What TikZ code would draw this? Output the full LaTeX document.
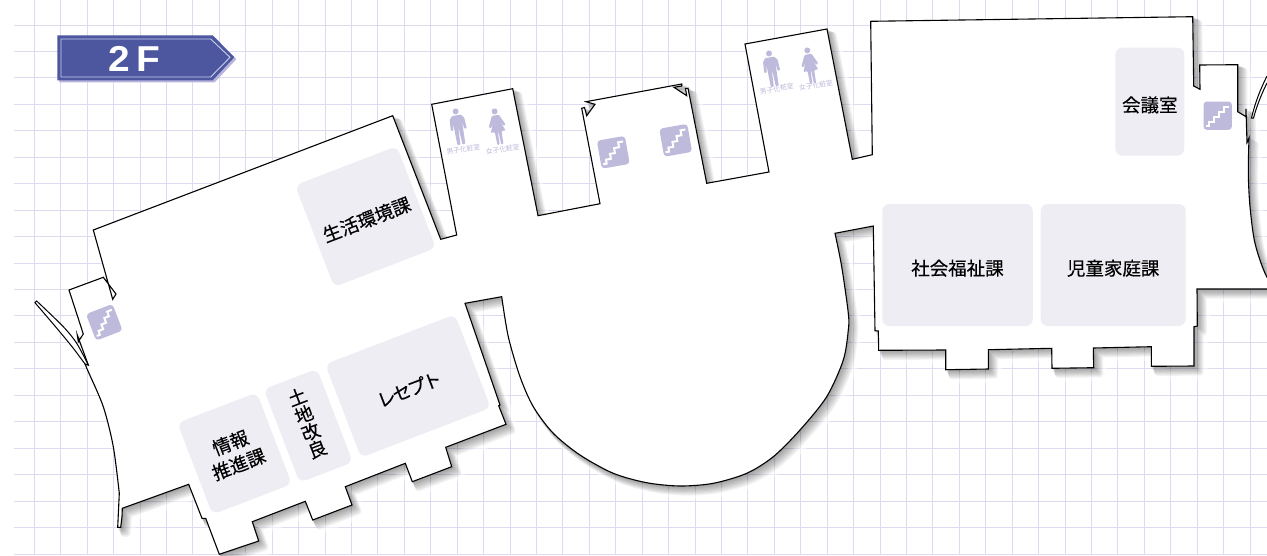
\documentclass[tikz,border=0pt]{standalone}
\usepackage{fontspec}
\newfontfamily\jpfont[FakeBold=0.3]{Noto Sans CJK JP}
\newfontfamily\jplight{Noto Sans CJK JP}
\setsansfont{Liberation Sans}
\definecolor{gridline}{HTML}{DEDAEF}
\definecolor{roomgray}{HTML}{EEEDF4}
\definecolor{iconblue}{HTML}{BEBADB}
\definecolor{badgeblue}{HTML}{4C57A0}
\definecolor{badgeshade}{HTML}{B8B5DC}
\definecolor{badgeline}{HTML}{CDD0EA}
\tikzset{
  room/.style={fill=roomgray, rounded corners=7pt, inner sep=0pt, align=center,
    font=\jpfont\fontsize{18.5}{21.5}\selectfont,
    execute at begin node={\rule{0pt}{22pt}}},
  wclabel/.style={text=iconblue, inner sep=0pt, rotate=10,
    font=\jplight\fontsize{6.8}{7}\selectfont},
  stairicon/.pic={
    \fill[iconblue, rounded corners=3.5pt] (-14.2,-14.2) rectangle (14.2,14.2);
    \draw[white, line width=2pt] (11.5,-9) -- (6.5,-9) -- (6.5,-4) -- (1.5,-4) -- (1.5,1)
      -- (-3.5,1) -- (-3.5,6) -- (-8.5,6) -- (-8.5,10) -- (-12,10);
  },
  manicon/.pic={
    \fill[iconblue] (0,-15.5) circle (3);
    \fill[iconblue, rounded corners=.8pt] (-7.4,-8) -- (-4.5,-11.5) -- (4.5,-11.5) -- (7.4,-8)
      -- (8,3) -- (5.6,3) -- (4.6,-5) -- (4,18) -- (1,18) -- (.2,2) -- (-.2,2) -- (-1,18)
      -- (-4,18) -- (-4.6,-5) -- (-5.6,3) -- (-8,3) -- cycle;
  },
  womanicon/.pic={
    \fill[iconblue] (0,-15.5) circle (3);
    \fill[iconblue, rounded corners=.8pt] (-3.5,-11.5) -- (3.5,-11.5) -- (8.5,-1) -- (6.6,.5)
      -- (3.4,-5) -- (7.5,5) -- (3.4,5) -- (3,18) -- (.8,18) -- (.3,5) -- (-.3,5) -- (-.8,18)
      -- (-3,18) -- (-3.4,5) -- (-7.5,5) -- (-3.4,-5) -- (-6.6,.5) -- (-8.5,-1) -- cycle;
  }
}
% outline of the floor, clockwise from the top left wall
\newcommand{\floorpath}{
  (93.3,230) -- (392.7,115.7) -- (440.7,239.3) -- (456.7,235) -- (431.7,104.3) -- (512.7,88.7)
  -- (538,215.7) -- (600,203.7) -- (581.7,108.3) -- (584.5,107.5) -- (586.7,115.7) -- (595,104.3)
  -- (586,101.7) -- (681.7,84) -- (681.7,86) -- (674,87.3) -- (686.7,95.7) -- (685.5,88.5) -- (688,88.3)
  -- (706.7,183.3) -- (769,172) -- (745,44) -- (827,29) -- (852.3,159.3) -- (872.3,154.7)
  -- (870.7,21.3) -- (1192.7,16.7) -- (1193.7,86) -- (1200,89.3) -- (1199.7,65) -- (1237.7,64.7)
  -- (1237.7,111.7) -- (1246,116.7) -- (1246,109) -- (1247,142.7) -- (1249,138)
  -- plot[smooth] coordinates {(1249,138) (1248.3,173.3) (1250,206.7) (1255,243.3) (1266.7,276.7) (1285,300)}
  -- (1285,289) -- (1197,289) -- (1197.3,326) -- (1194,326.7) -- (1194,366) -- (1151.3,366.3)
  -- (1151.3,346.7) -- (1093.3,348) -- (1093.7,367.7) -- (1052,368.3) -- (1051.7,348.3)
  -- (988.3,349.7) -- (988.3,369) -- (945.7,369.7) -- (945.7,350) -- (878.7,350.3) -- (878.3,331)
  -- (875,330.7) -- (873.3,226) -- (835,233.3)
  -- plot[smooth] coordinates {(835,233.3) (841.7,266.7) (848.3,313.3) (848.3,330) (843.3,360)
    (826.7,396.7) (800,430) (773.3,456.7) (746.7,473.3) (713.3,483.3) (680,486) (646.7,482.7)
    (613.3,473.3) (580,455) (553.3,433.3) (533.3,406.7) (520,376.7) (508.3,336.7) (501.7,296.7)}
  -- (465,303.3) -- (500,405) -- (498.7,405.7) -- (506,424.3) -- (445.7,447.3) -- (451.7,466.7)
  -- (412.3,481.7) -- (405.3,463.3) -- (345.3,486.7) -- (352,505) -- (312.7,520) -- (305.3,501.3)
  -- (252.3,521.7) -- (258.7,541) -- (219.3,554.3) -- (205.7,518.3) -- (202,518.3) -- (188.7,484.3)
  -- (122.3,508.3) -- (122,516.7) -- (120.7,527.3) -- (117.7,527.3) -- (119.3,493.3)
  -- plot[smooth] coordinates {(119.3,493.3) (113.3,446.7) (103.3,406.7) (88.3,371.7) (85,364)}
  -- (88.3,365) -- (77.3,335) -- (78.3,341.7) -- (83.3,334) -- (69,290) -- (103.3,277.3)
  -- (116,294) -- (112.7,299.3) -- cycle
}
\begin{document}
\begin{tikzpicture}[x=1pt,y=-1pt]
  \useasboundingbox (0,0) rectangle (1267,555);
  \fill[white] (0,0) rectangle (1267,555);

  % grid paper
  \foreach \i in {0,...,46} {
    \draw[gridline, line width=1pt] ({34.3+26.43*\i},0) -- ({34.3+26.43*\i},555);
  }
  \foreach \i in {0,...,20} {
    \draw[gridline, line width=1pt] (14,{25+26.45*\i}) -- (1267,{25+26.45*\i});
  }

  % shadow of the floor
  \begin{scope}[shift={(9,9)}]
    \draw[white, opacity=.5, line width=9pt, line join=round] \floorpath;
  \end{scope}
  \foreach \i in {1,...,8} {
    \begin{scope}[shift={(\i*.8,\i*.8)}, transparency group, opacity=.05]
      \filldraw[black, line width=\i*.8pt, line join=round] \floorpath;
    \end{scope}
  }

  % floor
  \draw[black, fill=white, line width=1.1pt] \floorpath;
  \draw[black, fill=white, line width=1pt] plot[smooth] coordinates {(36.7,301) (63.3,326.7) (76.7,343.3) (88.3,365)}
    -- plot[smooth] coordinates {(85,364) (73.3,348.3) (58.3,330) (35,302.7)} -- cycle;
  \draw[black, fill=white, line width=1pt] (1267,76) .. controls (1260,90) and (1255,103) .. (1251.5,118)
    -- (1253.5,118) .. controls (1257,105) and (1262,93) .. (1267,83);

  % rooms
  \node[room, rotate=21, minimum width=109pt, minimum height=109pt] (seikatsu) at (365.5,216.6) {生活環境課};
  \node[room, rotate=21, minimum width=139pt, minimum height=100pt] (recept) at (408,386) {レ\kern-2.2pt セ\kern-2.2pt プ\kern-2.2pt ト};
  \node[room, rotate=21, minimum width=57pt, minimum height=100pt, execute at begin node={}, font=\jpfont\fontsize{18.5}{18.6}\selectfont] (tochi) at (308.3,425.7) {土\\地\\改\\良\rule[-7pt]{0pt}{1pt}};
  \node[room, rotate=21, minimum width=85pt, minimum height=98pt, font=\jpfont\fontsize{18.5}{23}\selectfont] (joho) at (234.6,453.5) {情報\\推進課};
  \node[room, minimum width=150.5pt, minimum height=122pt] (shakai) at (957.5,265) {社会福祉課};
  \node[room, minimum width=145pt, minimum height=122pt] (jido) at (1113.2,265) {児童家庭課};
  \node[room, minimum width=69pt, minimum height=108pt] (kaigi) at (1149.8,101.7) {会議室};

  % stairs
  \pic[rotate=21] at (104.3,322.3) {stairicon};
  \pic[rotate=10] at (613.3,152.3) {stairicon};
  \pic[rotate=10] at (675.7,140.3) {stairicon};
  \pic at (1217.7,115.7) {stairicon};

  % toilets
  \pic[rotate=10] at (458.3,126.7) {manicon};
  \pic[rotate=10] at (497.3,126.7) {womanicon};
  \pic[rotate=10] at (771.7,68.7) {manicon};
  \pic[rotate=10] at (810,65.7) {womanicon};
  \node[wclabel] (wcmanA) at (463.3,149.3) {男子化粧室};
  \node[wclabel] (wcwomanA) at (502.7,149.3) {女子化粧室};
  \node[wclabel] (wcmanB) at (776.7,89) {男子化粧室};
  \node[wclabel] (wcwomanB) at (816,85.3) {女子化粧室};

  % floor badge
  \fill[badgeshade] (59.3,37.3) -- (214.7,37.3) -- (236.3,59.3) -- (214.7,82.3) -- (59.3,82.3) -- cycle;
  \fill[badgeblue] (57.3,35.3) -- (212.7,35.3) -- (234.3,57.3) -- (212.7,80.3) -- (57.3,80.3) -- cycle;
  \draw[badgeline, line width=.9pt] (61,39) -- (210.7,39) -- (230,57.3) -- (210.7,77) -- (61,77) -- cycle;
  \node[text=white, inner sep=0pt, xscale=1.08, font=\sffamily\bfseries\fontsize{36}{36}\selectfont] (floorbadge) at (134.5,59) {2\kern6pt F};
\end{tikzpicture}
\end{document}
